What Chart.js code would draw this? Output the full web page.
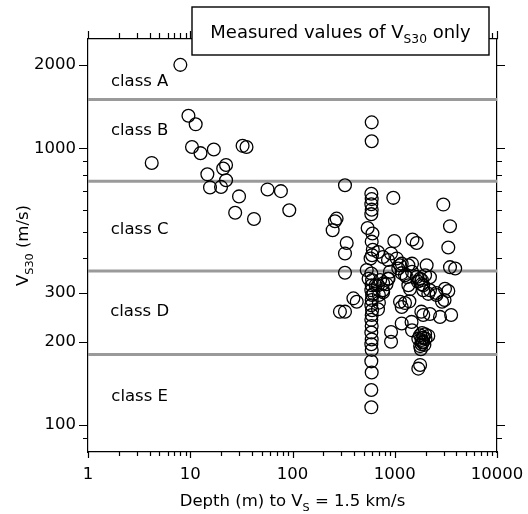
<!DOCTYPE html>
<html>
<head>
<meta charset="utf-8">
<script src="https://cdn.jsdelivr.net/npm/chart.js@4.4.1/dist/chart.umd.min.js"></script>
<style>
  body { margin: 0; background: #fff; }
  canvas { display: block; }
</style>
</head>
<body>
<canvas id="chart" width="528" height="514"></canvas>
<script>
// depth (m) to Vs = 1.5 km/s, and measured Vs30 (m/s) at each site
const depthM = [
    8, 9.6, 11.3, 10.4, 12.6, 17, 32.5, 35.5, 4.2, 22.4, 21, 14.7, 22.4, 15.6, 20, 30, 57, 77, 27.5, 42, 93,
    326, 595, 595, 968, 590, 595, 590, 595, 590,
    270, 2985, 260, 247, 543, 605, 3470, 339, 326,
    595, 610, 600, 580, 990, 1490, 1640, 3340,
    686, 767, 859, 919, 1045, 1170, 1475, 2050,
    326, 532, 555, 898, 1083, 1125, 1358, 3470, 3900,
    1260, 1640, 1840, 720, 870,
    590, 600, 595, 590, 600, 595, 590, 600, 595, 590, 595, 590, 595, 590, 595, 590, 595, 590, 590,
    686, 767, 830, 859, 700, 700, 686,
    1170, 1310, 1358, 1410, 1680, 1840, 1900, 2130, 1770, 1980, 2210, 2560, 2900, 3070,
    1126, 1260, 1170, 1390, 394, 425, 291, 326,
    2770, 3560, 1820, 2210, 1900, 1170, 1460, 1475, 920, 920,
    1770, 1830, 1900, 1980, 1830, 1770, 2000, 2130, 1700, 1870, 1950, 1800, 1850, 1900,
    1770, 1700, 1475, 1900, 2210, 2560, 3100, 3340, 650, 770, 770, 620
];
const vs30 = [
    2000, 1310, 1220, 1010, 960, 990, 1020, 1010, 885, 870, 845, 805, 766, 722, 725, 670, 710, 700, 585, 555, 597,
    735, 1240, 1060, 662, 685, 655, 628, 600, 578,
    557, 626, 545, 506, 515, 492, 523, 455, 417,
    460, 430, 411, 400, 462, 468, 455, 438,
    422, 405, 395, 417, 400, 383, 383, 378,
    355, 363, 338, 358, 368, 378, 378, 372, 368,
    348, 343, 334, 334, 338,
    353, 334, 320, 307, 295, 283, 271, 260, 250, 240, 228, 216, 204, 196, 187, 170, 155, 134, 116,
    320, 307, 323, 338, 295, 277, 262,
    354, 343, 320, 310, 330, 323, 307, 298, 338, 348, 342, 295, 279, 283,
    279, 276, 267, 280, 287, 279, 257, 257,
    246, 250, 257, 252, 250, 233, 236, 220, 217, 200,
    211, 203, 207, 213, 196, 193, 205, 210, 205, 199, 195, 188, 215, 200,
    165, 160, 358, 320, 307, 300, 311, 305, 320, 325, 302, 298
];

// site class boundaries (m/s) and labels
const classBounds = [1500, 760, 360, 180];
const classNames = ['class A', 'class B', 'class C', 'class D', 'class E'];
const classLabelVs = [1745, 1152, 506, 256, 127];

const xTicks = [1, 10, 100, 1000, 10000];
const yTicks = [100, 200, 300, 1000, 2000];
const yMinor = [90, 400, 500, 600, 700, 800, 900];

const FONT = 'DejaVu Sans';
Chart.defaults.font.family = FONT;
Chart.defaults.color = '#000';

const points = depthM.map((d, i) => ({ x: d, y: vs30[i] }));

const boundSets = classBounds.map(b => ({
    data: [{ x: 1, y: b }, { x: 10000, y: b }],
    showLine: true,
    borderColor: '#9a9a9a',
    borderWidth: 3,
    pointRadius: 0,
    order: 2
}));

const drawRich = (ctx, parts, x, y, size) => {
    const subSize = size * 0.68;
    let w = 0;
    parts.forEach(p => {
        ctx.font = (p.sub ? subSize : size) + 'px "' + FONT + '"';
        p.w = ctx.measureText(p.t).width;
        w += p.w;
    });
    let cx = x - w / 2;
    ctx.textAlign = 'left';
    ctx.textBaseline = 'alphabetic';
    parts.forEach(p => {
        ctx.font = (p.sub ? subSize : size) + 'px "' + FONT + '"';
        ctx.fillText(p.t, cx, y + (p.sub ? size * 0.3 : 0));
        cx += p.w;
    });
};

const decorations = {
    id: 'decorations',
    afterDraw(chart) {
        const { ctx, chartArea: a, scales: { x, y } } = chart;
        ctx.save();
        ctx.strokeStyle = '#000';
        ctx.fillStyle = '#000';
        ctx.lineWidth = 1.2;

        // log ticks on x, both sides
        ctx.beginPath();
        for (let k = 1; k <= 1000; k *= 10) {
            for (let m = 1; m <= 9; m++) {
                const px = Math.round(x.getPixelForValue(m * k)) + 0.5;
                const major = m === 1;
                ctx.moveTo(px, a.bottom); ctx.lineTo(px, a.bottom + (major ? 6 : 4));
                ctx.moveTo(px, a.top); ctx.lineTo(px, a.top - (major ? 8 : 6));
            }
        }
        const pEnd = Math.round(x.getPixelForValue(10000)) + 0.5;
        ctx.moveTo(pEnd, a.bottom); ctx.lineTo(pEnd, a.bottom + 6);
        ctx.moveTo(pEnd, a.top); ctx.lineTo(pEnd, a.top - 8);

        // y ticks, both sides
        yTicks.concat(yMinor).forEach(v => {
            const py = Math.round(y.getPixelForValue(v)) + 0.5;
            const major = yTicks.includes(v);
            ctx.moveTo(a.left - (major ? 9 : 5), py); ctx.lineTo(a.left, py);
            ctx.moveTo(a.right, py); ctx.lineTo(a.right + (major ? 8 : 5), py);
        });
        ctx.stroke();

        // class labels
        ctx.font = '16.5px "' + FONT + '"';
        ctx.textAlign = 'center';
        ctx.textBaseline = 'middle';
        classNames.forEach((n, i) => {
            ctx.fillText(n, x.getPixelForValue(3.2), y.getPixelForValue(classLabelVs[i]));
        });

        // title box
        ctx.fillStyle = '#fff';
        ctx.fillRect(192, 7, 297, 48);
        ctx.lineWidth = 1.4;
        ctx.strokeRect(192, 7, 297, 48);
        ctx.fillStyle = '#000';
        drawRich(ctx, [{ t: 'Measured values of V' }, { t: 'S30', sub: true }, { t: ' only' }], 340.5, 38, 18);

        // axis titles
        drawRich(ctx, [{ t: 'Depth (m) to V' }, { t: 'S', sub: true }, { t: ' = 1.5 km/s' }],
            (a.left + a.right) / 2, 506, 16.5);
        ctx.save();
        ctx.translate(28, (a.top + a.bottom) / 2);
        ctx.rotate(-Math.PI / 2);
        drawRich(ctx, [{ t: 'V' }, { t: 'S30', sub: true }, { t: ' (m/s)' }], 0, 0, 16.5);
        ctx.restore();
        ctx.restore();
    }
};

const border = { display: true, color: '#000', width: 1.2 };
const noPad = s => { s.paddingLeft = 0; s.paddingRight = 0; s.paddingTop = 0; s.paddingBottom = 0; };

new Chart(document.getElementById('chart'), {
    type: 'scatter',
    data: {
        datasets: [{
            data: points,
            borderColor: '#000',
            backgroundColor: 'rgba(0,0,0,0)',
            borderWidth: 1.3,
            pointRadius: 6.4,
            order: 1
        }, ...boundSets]
    },
    options: {
        responsive: false,
        animation: false,
        layout: { padding: 0 },
        plugins: { legend: { display: false }, tooltip: { enabled: false } },
        scales: {
            x: {
                type: 'logarithmic', position: 'bottom', min: 1, max: 10000,
                grid: { display: false, drawTicks: false },
                border,
                afterBuildTicks: s => { s.ticks = xTicks.map(v => ({ value: v })); },
                afterFit: s => { s.height = 62; noPad(s); },
                ticks: { autoSkip: false, maxRotation: 0, padding: 13, font: { size: 16.5 }, callback: v => String(v) }
            },
            x2: {
                type: 'logarithmic', position: 'top', min: 1, max: 10000,
                grid: { display: false, drawTicks: false },
                border,
                ticks: { display: false },
                afterFit: s => { s.height = 39; noPad(s); }
            },
            y: {
                type: 'logarithmic', position: 'left', min: 80, max: 2480,
                grid: { display: false, drawTicks: false },
                border,
                afterBuildTicks: s => { s.ticks = yTicks.map(v => ({ value: v })); },
                afterFit: s => { s.width = 88; noPad(s); },
                ticks: { autoSkip: false, padding: 12, font: { size: 16.5 }, callback: v => String(v) }
            },
            y2: {
                type: 'logarithmic', position: 'right', min: 80, max: 2480,
                grid: { display: false, drawTicks: false },
                border,
                ticks: { display: false },
                afterFit: s => { s.width = 31; noPad(s); }
            }
        }
    },
    plugins: [decorations]
});
</script>
</body>
</html>
